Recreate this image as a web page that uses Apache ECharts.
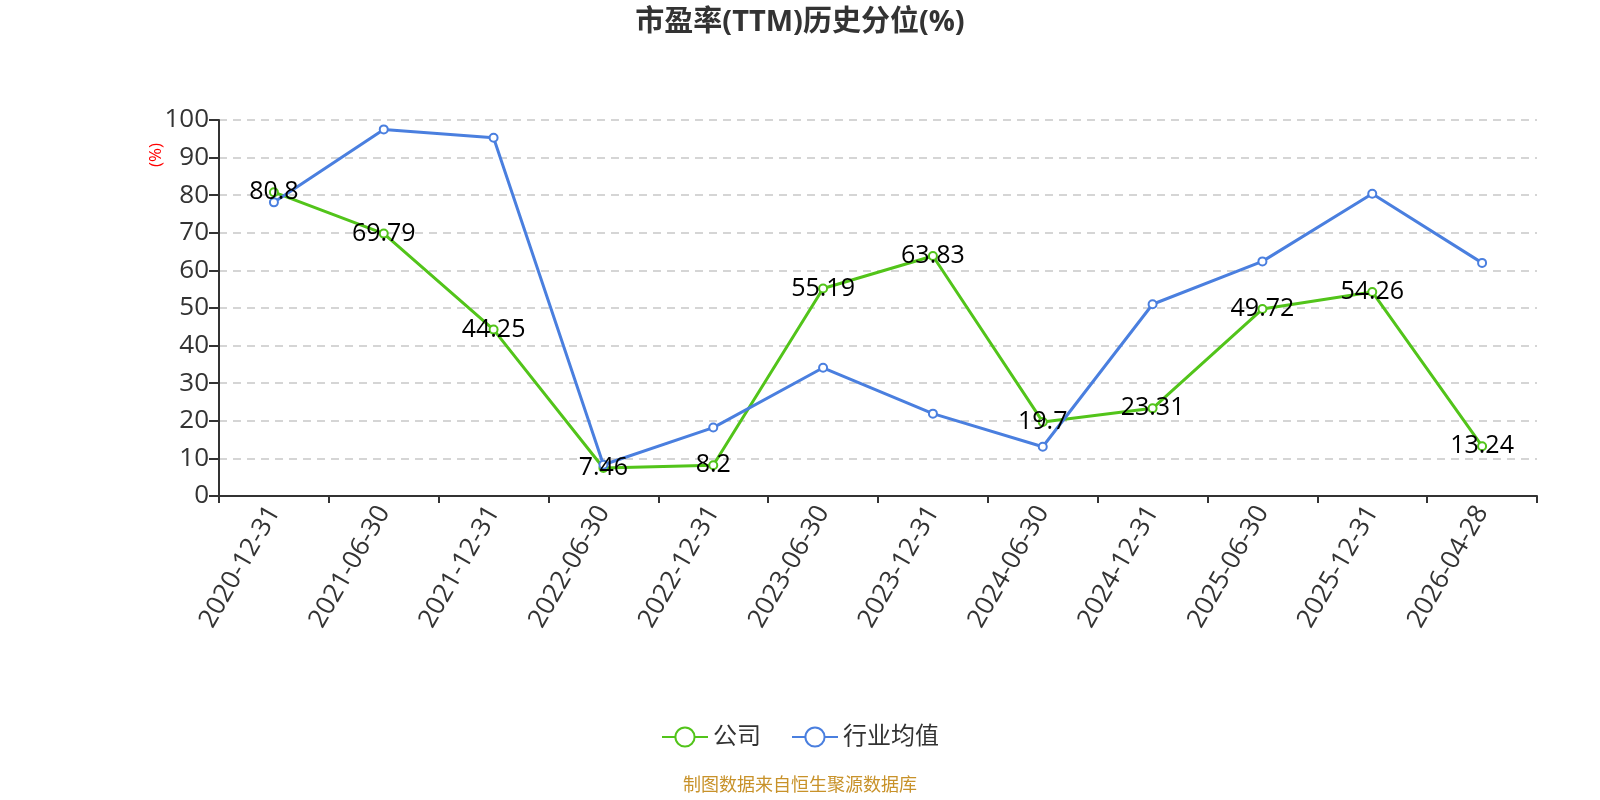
<!DOCTYPE html>
<html><head><meta charset="utf-8">
<script src="https://cdn.jsdelivr.net/npm/echarts@6/dist/echarts.min.js"></script>
<style>html,body{margin:0;padding:0;background:#fff}#c{width:1600px;height:800px}</style>
</head><body><div id="c"></div>
<script>
const categories = ['2020-12-31','2021-06-30','2021-12-31','2022-06-30','2022-12-31','2023-06-30','2023-12-31','2024-06-30','2024-12-31','2025-06-30','2025-12-31','2026-04-28'];
const companyValues = [80.8, 69.79, 44.25, 7.46, 8.2, 55.19, 63.83, 19.7, 23.31, 49.72, 54.26, 13.24];
const industryValues = [78.1, 97.5, 95.3, 8.3, 18.2, 34.1, 21.9, 13.1, 51.0, 62.4, 80.4, 62.0];
const seriesNames = ['公司', '行业均值'];
const titleText = '市盈率(TTM)历史分位(%)';
const sourceText = '制图数据来自恒生聚源数据库';

const font = '"Open Sans", "Noto Sans CJK SC", sans-serif';
const chart = echarts.init(document.getElementById('c'));
chart.setOption({
  animation: false,
  textStyle: { fontFamily: font },
  title: [{
    text: titleText, left: 'center', top: 3,
    textStyle: { fontSize: 29, fontWeight: 'bold', color: '#333', fontFamily: font }
  }, {
    text: sourceText, left: 'center', bottom: 0,
    textStyle: { fontSize: 18, fontWeight: 'normal', color: '#c8922a', fontFamily: font }
  }],
  legend: {
    bottom: 46, left: 'center', itemWidth: 46, itemHeight: 24, itemGap: 30,
    textStyle: { fontSize: 24, color: '#333', fontFamily: font },
    data: seriesNames
  },
  grid: { left: 219, right: 63, top: 120, bottom: 304, containLabel: false },
  xAxis: {
    type: 'category', data: categories, boundaryGap: true,
    axisLine: { lineStyle: { color: '#333', width: 2 } },
    axisTick: { show: true, length: 7, lineStyle: { color: '#333', width: 2 } },
    axisLabel: { rotate: 60, fontSize: 26, color: '#333', margin: 12, fontFamily: font }
  },
  yAxis: {
    type: 'value', min: 0, max: 100, interval: 10,
    name: '(%)', nameLocation: 'end', nameRotate: 90, nameGap: -35,
    nameTextStyle: { color: 'red', fontSize: 17, align: 'center', verticalAlign: 'bottom', padding: [0, 0, 54, 0] },
    axisLine: { show: true, lineStyle: { color: '#333', width: 2 } },
    axisTick: { show: true, length: 10, lineStyle: { color: '#333', width: 2 } },
    axisLabel: { fontSize: 26, color: '#333', margin: 10, fontFamily: font },
    splitLine: { show: true, lineStyle: { type: [8, 6], color: '#c8c8c8', width: 1.5 } }
  },
  series: [{
    name: seriesNames[0], type: 'line', data: companyValues,
    symbol: 'emptyCircle', symbolSize: 8, color: '#52c41a',
    lineStyle: { width: 3, color: '#52c41a' },
    label: { show: true, position: 'inside', fontSize: 25, color: '#000', fontFamily: font }
  }, {
    name: seriesNames[1], type: 'line', data: industryValues,
    symbol: 'emptyCircle', symbolSize: 8, color: '#4a7fdf',
    lineStyle: { width: 3, color: '#4a7fdf' },
    label: { show: false }
  }]
});
</script></body></html>
